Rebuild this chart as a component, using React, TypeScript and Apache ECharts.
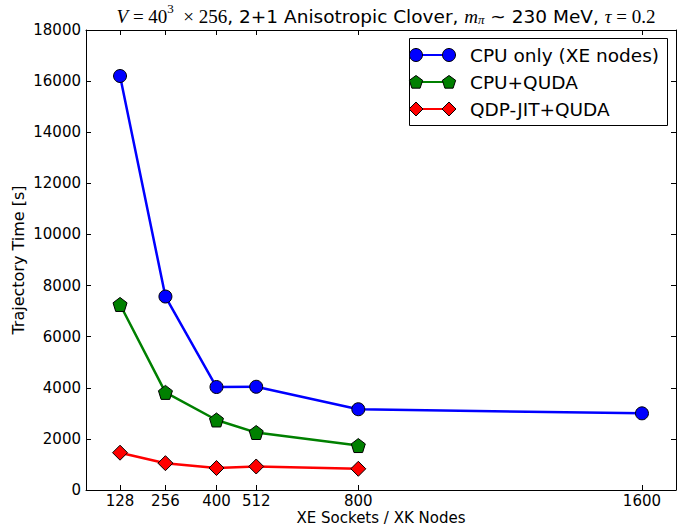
import React, { useEffect, useRef } from "react";
import * as echarts from "echarts";

const xTicks = [128, 256, 400, 512, 800, 1600];
const cpuX = [128, 256, 400, 512, 800, 1600];
const cpuY = [16200, 7570, 4030, 4040, 3160, 3000];
const qudaX = [128, 256, 400, 512, 800];
const qudaY = [7260, 3820, 2740, 2250, 1740];
const jitX = [128, 256, 400, 512, 800];
const jitY = [1460, 1050, 860, 920, 830];

const seriesNames = ["CPU only (XE nodes)", "CPU+QUDA", "QDP-JIT+QUDA"];
const seriesColors = ["#0000ff", "#008000", "#ff0000"];

const pentagonPath = "path://M0,-1 L0.951,-0.309 L0.588,0.809 L-0.588,0.809 L-0.951,-0.309 Z";

function pentagonPts(cx: number, cy: number, r: number) {
  const pts: number[][] = [];
  for (let k = 0; k < 5; k++) {
    const a = -Math.PI / 2 + (k * 2 * Math.PI) / 5;
    pts.push([cx + r * Math.cos(a), cy + r * Math.sin(a)]);
  }
  return pts;
}
function diamondPts(cx: number, cy: number, r: number) {
  return [
    [cx, cy - r],
    [cx + r, cy],
    [cx, cy + r],
    [cx - r, cy],
  ];
}

export default function App() {
  const ref = useRef<HTMLDivElement>(null);
  useEffect(() => {
    if (!ref.current) return;
    const chart = echarts.init(ref.current, null, { renderer: "svg" });
    const font = "DejaVu Sans";
    const mk = (xs: number[], ys: number[]) => xs.map((x, i) => [x, ys[i]]);
    const plain = (v: number) => String(v);

    const legendRows = [55, 82, 109];
    const legendEls: any[] = [
      {
        type: "rect",
        shape: { x: 409.5, y: 38.5, width: 258, height: 87 },
        style: { fill: "#fff", stroke: "#000", lineWidth: 1 },
        z: 100,
      },
    ];
    legendRows.forEach((y, i) => {
      legendEls.push({
        type: "line",
        shape: { x1: 416, y1: y, x2: 449, y2: y },
        style: { stroke: seriesColors[i], lineWidth: 2 },
        z: 101,
      });
      [416, 449].forEach((cx) => {
        if (i === 0) {
          legendEls.push({
            type: "circle",
            shape: { cx, cy: y, r: 6.5 },
            style: { fill: seriesColors[i], stroke: "#000", lineWidth: 1 },
            z: 102,
          });
        } else if (i === 1) {
          legendEls.push({
            type: "polygon",
            shape: { points: pentagonPts(cx, y + 0.5, 7) },
            style: { fill: seriesColors[i], stroke: "#000", lineWidth: 1 },
            z: 102,
          });
        } else {
          legendEls.push({
            type: "polygon",
            shape: { points: diamondPts(cx, y, 7) },
            style: { fill: seriesColors[i], stroke: "#000", lineWidth: 1 },
            z: 102,
          });
        }
      });
      legendEls.push({
        type: "text",
        x: 470,
        y,
        style: {
          text: seriesNames[i],
          fontFamily: font,
          fontSize: 18.5,
          fill: "#000",
          verticalAlign: "middle",
          align: "left",
        },
        z: 102,
      });
    });

    const serif = "Liberation Serif";
    const base = { color: "#000", fontWeight: "normal", lineHeight: 24, verticalAlign: "bottom" };
    const option: any = {
      animation: false,
      backgroundColor: "#fff",
      title: {
        text:
          "{i|V}{s| = 40}{sup|3}{s|  × 256}{n|, 2+1 Anisotropic Clover, }{i|m}{sub|π}{n| ~ 230 MeV, }{i|τ}{s| = 0.2}",
        left: 381,
        top: -3,
        textAlign: "center",
        textStyle: {
          fontWeight: "normal",
          rich: {
            i: { ...base, fontFamily: serif, fontStyle: "italic", fontSize: 19 },
            s: { ...base, fontFamily: serif, fontSize: 19 },
            n: { ...base, fontFamily: font, fontSize: 18.5 },
            sup: { color: "#000", fontWeight: "normal", fontFamily: serif, fontSize: 13, lineHeight: 14, verticalAlign: "top" },
            sub: { color: "#000", fontWeight: "normal", fontFamily: serif, fontStyle: "italic", fontSize: 13, lineHeight: 12, verticalAlign: "bottom" },
          },
        },
      },
      grid: { left: 86, top: 30, right: 7, bottom: 37, containLabel: false, outerBoundsMode: "none" },
      xAxis: [
        {
          type: "value",
          min: 32,
          max: 1696,
          position: "bottom",
          name: "XE Sockets / XK Nodes",
          nameLocation: "middle",
          nameGap: 21,
          nameMoveOverlap: false,
          nameTextStyle: { fontFamily: font, fontSize: 15, lineHeight: 14, color: "#000" },
          axisLine: { show: true, onZero: false, lineStyle: { color: "#000", width: 1 } },
          axisTick: { show: true, inside: true, length: 5, customValues: xTicks, lineStyle: { color: "#000" } },
          axisLabel: { show: true, customValues: xTicks, formatter: plain, fontFamily: font, fontSize: 15, lineHeight: 14, color: "#000", margin: 4 },
          splitLine: { show: false },
        },
        {
          type: "value",
          min: 32,
          max: 1696,
          position: "top",
          axisLine: { show: true, onZero: false, lineStyle: { color: "#000", width: 1 } },
          axisTick: { show: true, inside: true, length: 5, customValues: xTicks, lineStyle: { color: "#000" } },
          axisLabel: { show: false },
          splitLine: { show: false },
        },
      ],
      yAxis: [
        {
          type: "value",
          min: 0,
          max: 18000,
          interval: 2000,
          position: "left",
          name: "Trajectory Time [s]",
          nameLocation: "middle",
          nameGap: 60,
          nameMoveOverlap: false,
          nameTextStyle: { fontFamily: font, fontSize: 16, color: "#000" },
          axisLine: { show: true, onZero: false, lineStyle: { color: "#000", width: 1 } },
          axisTick: { show: true, inside: true, length: 5, lineStyle: { color: "#000" } },
          axisLabel: { formatter: plain, fontFamily: font, fontSize: 15, color: "#000", margin: 5 },
          splitLine: { show: false },
        },
        {
          type: "value",
          min: 0,
          max: 18000,
          interval: 2000,
          position: "right",
          axisLine: { show: true, onZero: false, lineStyle: { color: "#000", width: 1 } },
          axisTick: { show: true, inside: true, length: 5, lineStyle: { color: "#000" } },
          axisLabel: { show: false },
          splitLine: { show: false },
        },
      ],
      series: [
        {
          name: seriesNames[0],
          type: "line",
          data: mk(cpuX, cpuY),
          symbol: "circle",
          symbolSize: 13,
          lineStyle: { color: seriesColors[0], width: 2.5 },
          itemStyle: { color: seriesColors[0], borderColor: "#000", borderWidth: 1 },
          z: 3,
        },
        {
          name: seriesNames[1],
          type: "line",
          data: mk(qudaX, qudaY),
          symbol: pentagonPath,
          symbolSize: 14,
          lineStyle: { color: seriesColors[1], width: 2.5 },
          itemStyle: { color: seriesColors[1], borderColor: "#000", borderWidth: 1 },
          z: 3,
        },
        {
          name: seriesNames[2],
          type: "line",
          data: mk(jitX, jitY),
          symbol: "diamond",
          symbolSize: 15,
          lineStyle: { color: seriesColors[2], width: 2.5 },
          itemStyle: { color: seriesColors[2], borderColor: "#000", borderWidth: 1 },
          z: 3,
        },
      ],
      graphic: legendEls,
    };
    chart.setOption(option);
    return () => chart.dispose();
  }, []);
  return (
    <div
      ref={ref}
      style={{ position: "absolute", left: 0, top: 0, width: 683, height: 527 }}
    />
  );
}
